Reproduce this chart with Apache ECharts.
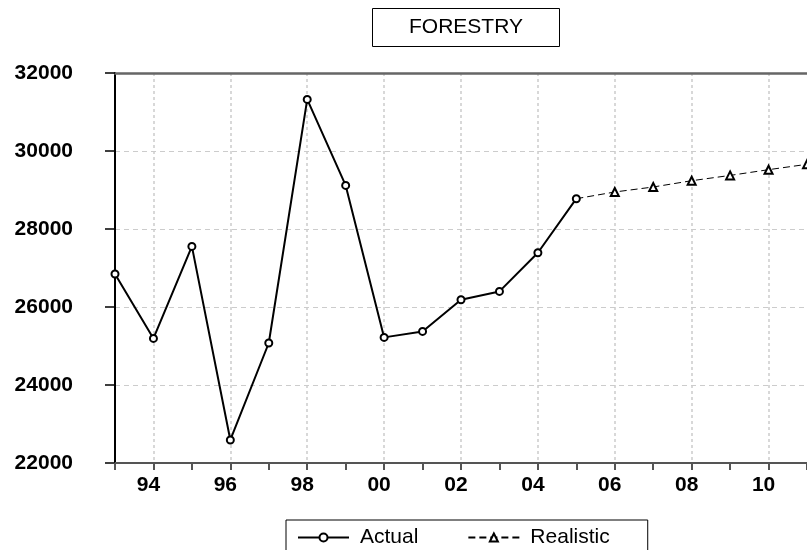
<!DOCTYPE html>
<html>
<head>
<meta charset="utf-8">
<script src="https://cdn.jsdelivr.net/npm/echarts@6/dist/echarts.min.js"></script>
<style>html,body{margin:0;padding:0;background:#fff}#c{width:807px;height:550px}</style>
</head>
<body>
<div id="c"></div>
<script>
var categories = ['93','94','95','96','97','98','99','00','01','02','03','04','05','06','07','08','09','10','11'];
var actual = [26846, 25195, 27554, 22590, 25077, 31323, 29118, 25221, 25374, 26187, 26400, 27392, 28777, null, null, null, null, null, null];
var realistic = [null, null, null, null, null, null, null, null, null, null, null, null, 28777, 28949, 29077, 29238, 29374, 29521, 29659];
var yTicks = [22000, 24000, 26000, 28000, 30000, 32000];

var FONT = 'Liberation Sans, Arial, sans-serif';
var realisticData = realistic.map(function (v, i) {
  if (v !== null && (i === 0 || realistic[i - 1] === null)) return { value: v, symbol: 'none' };
  return v;
});
var even = function (idx) { return idx % 2 === 1; };

var chart = echarts.init(document.getElementById('c'));
chart.setOption({
  animation: false,
  backgroundColor: '#fff',
  title: {
    text: 'FORESTRY',
    left: 372, top: 8,
    padding: [9, 37, 9, 37],
    borderColor: '#000', borderWidth: 1,
    textStyle: { fontFamily: FONT, fontSize: 21, fontWeight: 'normal', color: '#000' }
  },
  legend: {
    left: 286, top: 520,
    padding: [7, 38, 20, 11],
    borderColor: '#000', borderWidth: 1,
    itemWidth: 51, itemHeight: 10, itemGap: 49,
    textStyle: { fontFamily: FONT, fontSize: 21, color: '#000', padding: [0, 0, 0, 6] },
    data: ['Actual', 'Realistic']
  },
  grid: {
    left: 115, top: 73, right: -10, bottom: 87
  },
  xAxis: [{
    type: 'category', data: categories, boundaryGap: false,
    axisLine: { lineStyle: { color: '#555', width: 2 } },
    axisTick: { show: true, interval: 0, length: 7, lineStyle: { color: '#555', width: 2 } },
    axisLabel: { interval: even, fontFamily: FONT, fontSize: 21, fontWeight: 'bold', color: '#000', margin: 12, padding: [0, 10, 0, 0] },
    splitLine: { show: true, interval: even, lineStyle: { color: '#ccc', type: [3, 3], width: 1.5 } }
  }, {
    type: 'category', data: categories, boundaryGap: false, position: 'top',
    axisLine: { show: true, lineStyle: { color: '#666', width: 2.5 } },
    axisTick: { show: false }, axisLabel: { show: false }, splitLine: { show: false }
  }],
  yAxis: {
    type: 'value', min: yTicks[0], max: yTicks[yTicks.length - 1], interval: 2000,
    axisLine: { show: true, lineStyle: { color: '#000', width: 2 } },
    axisTick: { show: true, length: 10, lineStyle: { color: '#000', width: 1.5 } },
    axisLabel: { fontFamily: FONT, fontSize: 21, fontWeight: 'bold', color: '#000', margin: 42,
      formatter: function (v) { return String(v); } },
    splitLine: { show: true, lineStyle: { color: '#ccc', type: [5, 4], width: 1 } }
  },
  series: [
    {
      name: 'Actual', type: 'line', data: actual,
      symbol: 'emptyCircle', symbolSize: 7,
      lineStyle: { color: '#000', width: 2 },
      itemStyle: { color: '#000', borderColor: '#000', borderWidth: 2.5 },
      z: 4
    },
    {
      name: 'Realistic', type: 'line', data: realisticData,
      symbol: 'emptyTriangle', symbolSize: 8,
      lineStyle: { color: '#000', width: 1, type: [7, 4] },
      itemStyle: { color: '#000', borderColor: '#000', borderWidth: 1 },
      z: 3
    }
  ]
});
</script>
</body>
</html>
